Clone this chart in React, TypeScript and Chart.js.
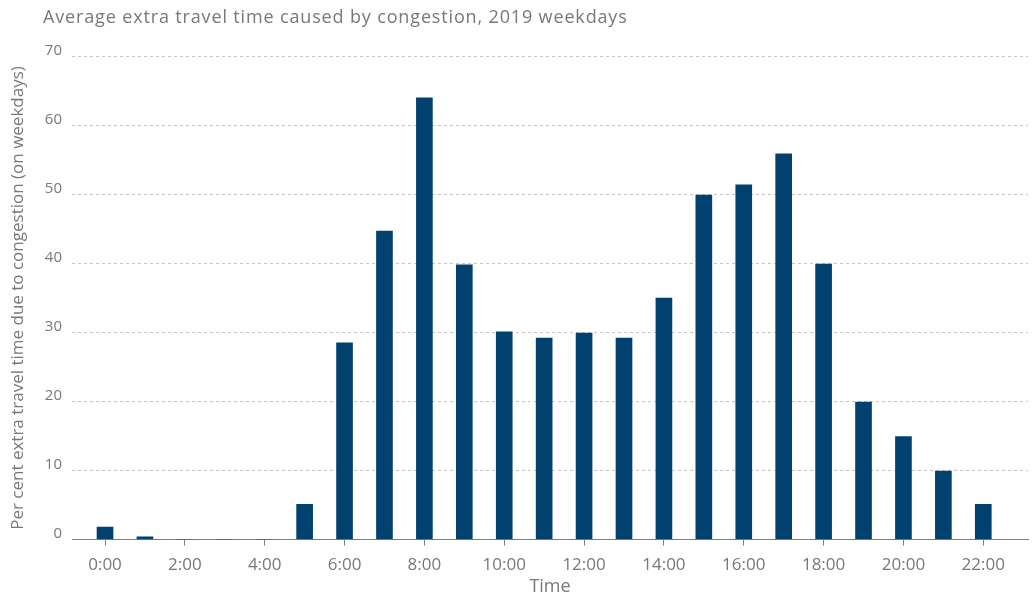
import React, { useEffect, useRef } from "react";
import { Chart, registerables } from "chart.js";

Chart.register(...registerables);

const TITLE = "Average extra travel time caused by congestion, 2019 weekdays";
const Y_TITLE = "Per cent extra travel time due to congestion (on weekdays)";
const X_TITLE = "Time";

// hour of day (bar position)
const hours = [0, 1, 2, 3, 4, 5, 6, 7, 8, 9, 10, 11, 12, 13, 14, 15, 16, 17, 18, 19, 20, 21, 22];
// per cent extra travel time
const values = [1.8, 0.4, 0, 0, 0, 5.1, 28.5, 44.7, 64, 39.8, 30.1, 29.2, 29.9, 29.2, 35, 49.9, 51.4, 55.9, 39.9, 19.9, 14.9, 9.9, 5.1];
// y axis ticks
const yTicks = [0, 10, 20, 30, 40, 50, 60, 70];

const FONT = "'Open Sans', 'DejaVu Sans', sans-serif";
const TEXT = "#787878";
const BAR = "#00416F";
const GRID = "#c6c6c6";
const AXIS = "#7d7d7d";

const titlePlugin = {
  id: "customTitle",
  afterDraw(chart: any) {
    const ctx = chart.ctx;
    ctx.save();
    ctx.font = `18px ${FONT}`;
    (ctx as any).letterSpacing = "0.85px";
    ctx.fillStyle = TEXT;
    ctx.textAlign = "left";
    ctx.textBaseline = "alphabetic";
    ctx.fillText(TITLE, 43, 23);
    ctx.restore();
  },
};

export default function App() {
  const ref = useRef<HTMLCanvasElement | null>(null);

  useEffect(() => {
    document.body.style.margin = "0";
    if (!ref.current) return;
    const chart = new Chart(ref.current, {
      type: "bar",
      data: {
        datasets: [
          {
            data: hours.map((h, i) => ({ x: h, y: values[i] })),
            backgroundColor: BAR,
            borderWidth: 0,
            barThickness: 16,
          },
        ],
      },
      options: {
        responsive: false,
        animation: false,
        devicePixelRatio: 1,
        layout: { padding: { top: 56.5, right: 4, bottom: 0, left: 0 } },
        plugins: {
          legend: { display: false },
          tooltip: { enabled: false },
          title: { display: false },
        },
        scales: {
          x: {
            type: "linear",
            offset: false,
            min: -0.827,
            max: 23.12,
            afterFit: (s: any) => {
              s.height = 53.5;
            },
            grid: {
              display: true,
              offset: false,
              drawOnChartArea: false,
              drawTicks: true,
              tickLength: 6,
              tickColor: AXIS,
              tickWidth: 1,
            },
            border: { display: true, color: AXIS, width: 1 },
            ticks: {
              stepSize: 2,
              includeBounds: false,
              autoSkip: false,
              maxRotation: 0,
              padding: 9,
              color: TEXT,
              font: { family: FONT, size: 17 },
              callback: (v: any) => `${v}:00`,
            },
            title: {
              display: true,
              text: X_TITLE,
              color: TEXT,
              font: { family: FONT, size: 18, lineHeight: 0.67 },
              padding: { top: 0, bottom: 0 },
            },
          },
          y: {
            min: 0,
            max: 70,
            afterFit: (s: any) => {
              s.width = 72;
            },
            afterBuildTicks: (s: any) => {
              s.ticks = yTicks.map((v) => ({ value: v }));
            },
            grid: {
              drawTicks: false,
              color: (c: any) => (c.tick && c.tick.value === 0 ? "rgba(0,0,0,0)" : GRID),
              lineWidth: 1,
            },
            border: { display: false, dash: [3, 3] },
            ticks: {
              padding: 10,
              labelOffset: -6,
              color: TEXT,
              font: { family: FONT, size: 15 },
            },
            title: {
              display: true,
              text: Y_TITLE,
              color: TEXT,
              font: { family: FONT, size: 17 },
              padding: { top: 7.5, bottom: 0 },
            },
          },
        },
      },
      plugins: [titlePlugin],
    });
    return () => chart.destroy();
  }, []);

  return (
    <div style={{ width: 1032, height: 593 }}>
      <canvas ref={ref} width={1032} height={593} style={{ display: "block" }} />
    </div>
  );
}
